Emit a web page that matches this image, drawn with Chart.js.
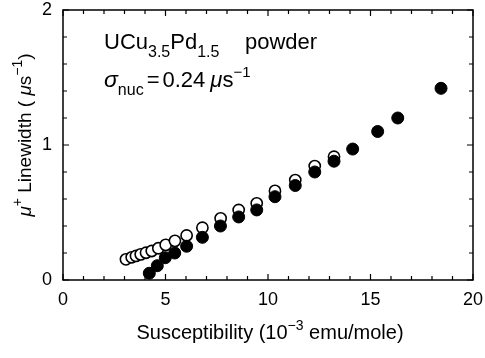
<!DOCTYPE html>
<html>
<head>
<meta charset="utf-8">
<script src="https://cdn.jsdelivr.net/npm/chart.js@4/dist/chart.umd.min.js"></script>
<style>
body{margin:0;background:#fff;}
</style>
</head>
<body>
<canvas id="lw_chart" width="485" height="358"></canvas>
<script>
// axis ticks
var x_ticks = [0, 5, 10, 15, 20];
var y_ticks = [0, 1, 2];

// filled circles
var chi_filled = [4.21, 4.60, 4.99, 5.45, 6.03, 6.80, 7.68, 8.57, 9.45, 10.34, 11.33, 12.28, 13.22, 14.13, 15.35, 16.33, 18.44];
var lw_filled = [0.05, 0.106, 0.165, 0.20, 0.25, 0.316, 0.40, 0.467, 0.519, 0.617, 0.70, 0.80, 0.88, 0.97, 1.10, 1.20, 1.42];

// open circles
var chi_open = [3.07, 3.35, 3.56, 3.79, 4.05, 4.33, 4.65, 5.01, 5.46, 6.03, 6.80, 7.69, 8.57, 9.45, 10.34, 11.33, 12.28, 13.22];
var lw_open = [0.153, 0.168, 0.178, 0.190, 0.202, 0.215, 0.235, 0.26, 0.29, 0.33, 0.387, 0.457, 0.519, 0.568, 0.66, 0.74, 0.844, 0.913];

var FONT = '"Liberation Sans", Arial, sans-serif';

function pts(xs, ys) {
  var out = [];
  for (var i = 0; i < xs.length; i++) out.push({x: xs[i], y: ys[i]});
  return out;
}

function fontOf(p) {
  return (p.it ? 'italic ' : '') + p.s + 'px ' + FONT;
}

// draw text made of pieces (sub/superscripts), x,y = start of baseline
function drawRich(ctx, parts, x, y, align) {
  var w = 0;
  parts.forEach(function (p) { ctx.font = fontOf(p); w += (p.dx || 0) + ctx.measureText(p.t).width; });
  var cx = x;
  if (align === 'center') cx = x - w / 2;
  ctx.textBaseline = 'alphabetic';
  ctx.textAlign = 'left';
  parts.forEach(function (p) {
    ctx.font = fontOf(p);
    cx += p.dx || 0;
    ctx.fillText(p.t, cx, y + (p.dy || 0));
    cx += ctx.measureText(p.t).width;
  });
}

var frame_plugin = {
  id: 'frame_plugin',
  afterDraw: function (chart) {
    var ctx = chart.ctx;
    var a = chart.chartArea;
    var xs = chart.scales.x, ys = chart.scales.y;
    ctx.save();
    ctx.strokeStyle = '#000';
    ctx.fillStyle = '#000';
    ctx.lineWidth = 1.5;
    ctx.strokeRect(a.left, a.top, a.right - a.left, a.bottom - a.top);
    ctx.lineWidth = 1.2;
    ctx.beginPath();
    var v, px, len;
    for (v = 0; v <= 20; v += 1) {
      px = xs.getPixelForValue(v);
      len = (v % 5 === 0) ? 6 : 4;
      ctx.moveTo(px, a.bottom); ctx.lineTo(px, a.bottom - len);
      ctx.moveTo(px, a.top); ctx.lineTo(px, a.top + len);
    }
    for (var k = 0; k <= 10; k++) {
      v = k * 0.2;
      px = ys.getPixelForValue(v);
      len = (k % 5 === 0) ? 6 : 4;
      ctx.moveTo(a.left, px); ctx.lineTo(a.left + len, px);
      ctx.moveTo(a.right, px); ctx.lineTo(a.right - len, px);
    }
    ctx.stroke();

    // annotations
    drawRich(ctx, [{t: 'UCu', s: 22}, {t: '3.5', s: 16, dy: 8}, {t: 'Pd', s: 22}, {t: '1.5', s: 16, dy: 8}], 104, 49);
    drawRich(ctx, [{t: 'powder', s: 22}], 245, 49);
    drawRich(ctx, [{t: 'σ', s: 23, it: true}, {t: 'nuc', s: 16, dy: 8}, {t: '=', s: 22, dx: 3},
      {t: '0.24', s: 22, dx: 3}, {t: 'μ', s: 22, it: true, dx: 5}, {t: 's', s: 22},
      {t: '−1', s: 15, dy: -10}], 104, 87);

    // axis titles
    drawRich(ctx, [{t: 'Susceptibility (10', s: 20}, {t: '−3', s: 14, dy: -9}, {t: ' emu/mole)', s: 20}],
      270, 339, 'center');
    ctx.translate(31, 135);
    ctx.rotate(-Math.PI / 2);
    drawRich(ctx, [{t: 'μ', s: 19, it: true}, {t: '+', s: 14, dy: -9}, {t: ' Linewidth ( ', s: 19},
      {t: 'μ', s: 19, it: true}, {t: 's', s: 19}, {t: '−1', s: 14, dy: -9}, {t: ')', s: 19}], 0, 0, 'center');
    ctx.restore();
  }
};

var ctx = document.getElementById('lw_chart').getContext('2d');
var lw_chart = new Chart(ctx, {
  type: 'scatter',
  data: {
    datasets: [{
      label: 'filled',
      data: pts(chi_filled, lw_filled),
      pointRadius: 6,
      pointBackgroundColor: '#000',
      pointBorderColor: '#000',
      pointBorderWidth: 1,
      order: 0
    }, {
      label: 'open',
      data: pts(chi_open, lw_open),
      pointRadius: 5.6,
      pointBackgroundColor: '#fff',
      pointBorderColor: '#000',
      pointBorderWidth: 1.6,
      order: 1
    }]
  },
  options: {
    responsive: false,
    animation: false,
    layout: {padding: {top: 10, right: 12, left: 0, bottom: 0}},
    plugins: {legend: {display: false}, tooltip: {enabled: false}},
    scales: {
      x: {
        type: 'linear', min: 0, max: 20,
        afterFit: function (s) { s.height = 78; s.paddingLeft = 0; s.paddingRight = 0; },
        afterBuildTicks: function (s) { s.ticks = x_ticks.map(function (v) { return {value: v}; }); },
        grid: {display: false, drawTicks: false},
        border: {display: false},
        ticks: {color: '#000', padding: 9, font: {family: FONT, size: 18}, maxRotation: 0}
      },
      y: {
        type: 'linear', min: 0, max: 2,
        afterFit: function (s) { s.width = 63; s.paddingTop = 0; s.paddingBottom = 0; },
        afterBuildTicks: function (s) { s.ticks = y_ticks.map(function (v) { return {value: v}; }); },
        grid: {display: false, drawTicks: false},
        border: {display: false},
        ticks: {color: '#000', padding: 11, font: {family: FONT, size: 18}}
      }
    }
  },
  plugins: [frame_plugin]
});
</script>
</body>
</html>
